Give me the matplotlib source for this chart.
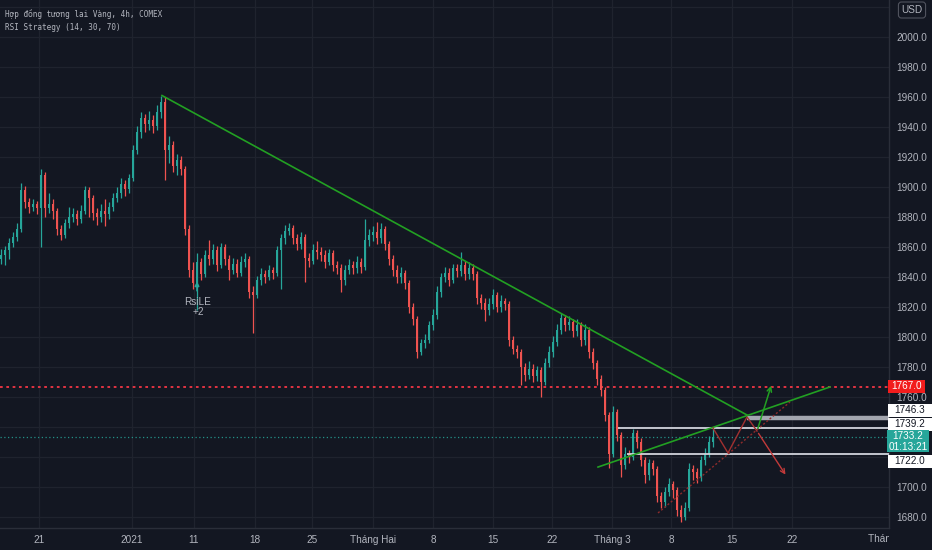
import matplotlib
matplotlib.use('Agg')
import matplotlib.pyplot as plt
import matplotlib.transforms as mtransforms
from matplotlib.transforms import Bbox, TransformedBbox
from matplotlib.patches import Rectangle
import numpy as np

# ---------------- data ----------------
first_open = 1852.0
closes = [1855, 1858, 1863, 1867, 1872, 1898, 1890, 1887, 1889, 1886,
          1908, 1886, 1889, 1884, 1872, 1868, 1876, 1880, 1882, 1879,
          1884, 1898, 1893, 1883, 1880, 1884, 1882, 1887, 1893, 1896,
          1902, 1899, 1906, 1925, 1937, 1946, 1942, 1945, 1941, 1950,
          1957, 1925, 1928, 1914, 1918, 1912, 1872, 1845, 1836, 1850,
          1842, 1855, 1852, 1858, 1848, 1860, 1852, 1845, 1849, 1843,
          1850, 1852, 1830, 1828, 1838, 1842, 1840, 1845, 1843, 1858,
          1866, 1871, 1873, 1866, 1862, 1867, 1853, 1851, 1858, 1857,
          1855, 1850, 1856, 1848, 1846, 1838, 1845, 1848, 1846, 1850,
          1847, 1865, 1868, 1870, 1866, 1872, 1862, 1852, 1845, 1840,
          1843, 1836, 1820, 1812, 1790, 1796, 1798, 1808, 1815, 1830,
          1840, 1843, 1838, 1846, 1844, 1848, 1842, 1846, 1842, 1826,
          1823, 1818, 1822, 1828, 1820, 1824, 1822, 1798, 1792, 1790,
          1780, 1775, 1779, 1774, 1778, 1770, 1783, 1790, 1797, 1805,
          1813, 1808, 1810, 1804, 1808, 1798, 1805, 1790, 1783, 1772,
          1765, 1748, 1722, 1750, 1735, 1715, 1722, 1720, 1736, 1730,
          1718, 1708, 1716, 1712, 1694, 1690, 1697, 1702, 1698, 1685,
          1680, 1686, 1712, 1710, 1706, 1718, 1722, 1730, 1733.2]
highs = [1859, 1861, 1866, 1870, 1876, 1903, 1901, 1893, 1892, 1891,
         1912, 1910, 1896, 1892, 1886, 1875, 1879, 1887, 1886, 1885,
         1888, 1901, 1900, 1895, 1886, 1889, 1892, 1890, 1896, 1900,
         1906, 1905, 1909, 1928, 1941, 1950, 1949, 1951, 1948, 1955,
         1961, 1960, 1934, 1931, 1922, 1921, 1914, 1875, 1850, 1856,
         1853, 1858, 1865, 1862, 1861, 1863, 1862, 1855, 1853, 1852,
         1854, 1856, 1854, 1834, 1841, 1846, 1845, 1848, 1847, 1861,
         1869, 1875, 1876, 1875, 1869, 1870, 1869, 1856, 1862, 1864,
         1860, 1858, 1859, 1858, 1851, 1849, 1848, 1852, 1851, 1854,
         1853, 1879, 1872, 1874, 1877, 1876, 1874, 1864, 1855, 1848,
         1847, 1845, 1838, 1823, 1814, 1799, 1802, 1811, 1819, 1834,
         1843, 1847, 1846, 1849, 1849, 1857, 1851, 1850, 1849, 1844,
         1829, 1826, 1826, 1832, 1830, 1828, 1826, 1824, 1801, 1795,
         1792, 1783, 1784, 1782, 1781, 1780, 1786, 1794, 1801, 1809,
         1816, 1815, 1814, 1812, 1812, 1810, 1809, 1807, 1793, 1785,
         1775, 1767, 1750, 1754, 1752, 1737, 1727, 1725, 1739, 1738,
         1733, 1720, 1719, 1718, 1714, 1697, 1700, 1706, 1704, 1700,
         1688, 1690, 1716, 1715, 1713, 1721, 1726, 1734, 1739.5]
lows = [1849, 1848, 1852, 1860, 1864, 1870, 1886, 1883, 1884, 1882,
        1860, 1880, 1883, 1879, 1868, 1865, 1866, 1873, 1877, 1875,
        1876, 1882, 1880, 1878, 1875, 1877, 1874, 1879, 1884, 1890,
        1893, 1894, 1896, 1904, 1922, 1933, 1937, 1938, 1936, 1938,
        1946, 1905, 1916, 1910, 1908, 1908, 1868, 1840, 1832, 1818,
        1838, 1840, 1848, 1849, 1844, 1846, 1848, 1838, 1842, 1840,
        1841, 1847, 1826, 1803, 1826, 1835, 1836, 1838, 1839, 1841,
        1832, 1862, 1868, 1862, 1858, 1859, 1837, 1847, 1849, 1852,
        1851, 1846, 1848, 1844, 1842, 1830, 1835, 1842, 1842, 1843,
        1843, 1845, 1861, 1864, 1862, 1863, 1858, 1848, 1841, 1836,
        1836, 1832, 1816, 1808, 1786, 1788, 1793, 1796, 1805, 1812,
        1827, 1837, 1834, 1836, 1840, 1841, 1838, 1839, 1838, 1822,
        1819, 1811, 1815, 1819, 1817, 1817, 1818, 1794, 1789, 1786,
        1768, 1771, 1772, 1770, 1771, 1760, 1768, 1780, 1787, 1794,
        1802, 1804, 1805, 1800, 1801, 1794, 1795, 1786, 1779, 1768,
        1761, 1744, 1713, 1720, 1731, 1707, 1712, 1716, 1718, 1726,
        1714, 1703, 1705, 1708, 1690, 1686, 1687, 1694, 1693, 1681,
        1677, 1678, 1684, 1705, 1703, 1704, 1715, 1720, 1727]

date_labels = ['21', '2021', '11', '18', '25', 'Tháng Hai', '8', '15', '22',
               'Tháng 3', '8', '15', '22']
next_month_label = 'Tháng 4'
price_ticks = [1680, 1700, 1720, 1740, 1760, 1780, 1800, 1820, 1840, 1860,
               1880, 1900, 1920, 1940, 1960, 1980, 2000, 2020]
hidden_ticks = [1720, 1740, 2020]

title_line1 = 'Hợp đồng tương lai Vàng, 4h, COMEX'
title_line2 = 'RSI Strategy (14, 30, 70)'
last_price = 1733.2
countdown = '01:13:21'
alert_level = 1767.0
level_values = [1746.3, 1739.2, 1722.0]
level_starts = [186.5, 154.25, 156.5]

# user drawings (bar index, price)
down_trend = [(40.25, 1961.0), (186.5, 1748.0)]
up_trend = [(149.25, 1713.3), (207.25, 1766.7)]
zigzag = [(178.0, 1739.3), (181.75, 1722.7), (186.5, 1746.7), (189.0, 1737.3)]
red_arrow_end = (196.5, 1706.7)
green_arrow_end = (192.75, 1769.3)
dotted_channel = [(164.25, 1682.7), (197.25, 1756.7)]
signal_bar = 49
signal_text = ['RsiLE', '+2']

# ---------------- style ----------------
BG = '#131722'
GRID = '#1f232e'
TXT = '#b2b5be'
UP = '#26a69a'
DOWN = '#ef5350'
GREEN = '#22a022'
plt.rcParams['font.family'] = ['Liberation Sans Narrow', 'Liberation Sans', 'DejaVu Sans']

W, H = 932, 550
AXW = 889
fig = plt.figure(figsize=(W / 100, H / 100), dpi=100, facecolor=BG)
ax = fig.add_axes([0, 22 / H, AXW / W, 528 / H], facecolor=BG)
ax.set_xlim(-0.25, 222)
ax.set_ylim(1672.67, 2024.67)

# ticks and grid
tick_pos = [9.5, 32.75, 48.25, 63.5, 77.75, 93, 108, 123, 137.75, 152.75,
            167.5, 182.75, 197.75]
ax.set_xticks(tick_pos)
ax.set_xticklabels(date_labels)
ax.set_yticks(price_ticks)
ax.set_yticklabels(['' if p in hidden_ticks else f'{p:.1f}' for p in price_ticks])
ax.yaxis.tick_right()
ax.tick_params(axis='y', length=0, pad=5, labelcolor=TXT, labelsize=7.2)
ax.tick_params(axis='x', length=0, pad=5, labelcolor=TXT, labelsize=7.2)
ax.grid(True, color=GRID, lw=0.9)
ax.set_axisbelow(True)
for s in ['top', 'left']:
    ax.spines[s].set_visible(False)
for s in ['right', 'bottom']:
    ax.spines[s].set_color('#2a2e39')
    ax.spines[s].set_linewidth(1.0)

# clipped next month label
clip = TransformedBbox(Bbox([[0, 0], [AXW / W, 1]]), fig.transFigure)
tr = mtransforms.blended_transform_factory(ax.transData, ax.transAxes)
t = ax.text(221.25, -0.021, next_month_label, transform=tr, ha='center', va='center',
            color=TXT, fontsize=7.2)
t.set_clip_on(True)
t.set_clip_box(clip)

# candles
c = np.array(closes, float)
o = np.array([first_open] + closes[:-1], float)
hi = np.array(highs, float)
lo = np.array(lows, float)
x = np.arange(len(c))
cols = np.where(c >= o, UP, DOWN)
ax.vlines(x, lo, hi, colors=cols, lw=0.9, zorder=3)
body = np.maximum(np.abs(c - o), 0.5)
ax.bar(x, body, bottom=np.minimum(o, c), width=0.65, color=cols, lw=0, zorder=4)

# horizontal levels
ax.axhline(alert_level, color='#f23645', ls=(0, (1.5, 2.0)), lw=1.3, zorder=2)
ax.axhline(last_price, color=UP, ls=(0, (1, 2)), lw=0.9, alpha=0.85, zorder=2)
ax.hlines(level_values[0], level_starts[0], 222, color='#a3a6af', lw=3.2, zorder=5)
ax.hlines(level_values[1], level_starts[1], 222, color='#d1d4dc', lw=1.3, zorder=5)
ax.hlines(level_values[2], level_starts[2], 222, color='#d1d4dc', lw=1.3, zorder=5)

# drawings
ax.plot(*zip(*down_trend), color=GREEN, lw=1.2, zorder=6)
ax.plot(*zip(*up_trend), color=GREEN, lw=1.2, zorder=6)
ax.plot(*zip(*dotted_channel), color='#8e2b2b', lw=1.0, ls=(0, (1.5, 1.5)), zorder=6)
ax.plot(*zip(*zigzag), color='#a23030', lw=1.0, zorder=6)
ax.annotate('', xy=red_arrow_end, xytext=zigzag[-1],
            arrowprops=dict(arrowstyle='->', color='#c23a3a', lw=1.0, mutation_scale=8), zorder=6)
ax.annotate('', xy=green_arrow_end, xytext=zigzag[-1],
            arrowprops=dict(arrowstyle='->', color=GREEN, lw=1.1, mutation_scale=8), zorder=6)

# signal marker
ax.annotate('', xy=(signal_bar, 1839), xytext=(signal_bar, 1829),
            arrowprops=dict(arrowstyle='-|>', color=UP, lw=1.2, mutation_scale=6), zorder=7)
ax.text(signal_bar + 0.25, 1823.3, signal_text[0], color=TXT, fontsize=7.2,
        ha='center', va='center', zorder=7)
ax.text(signal_bar + 0.25, 1816.7, signal_text[1], color=TXT, fontsize=7.2,
        ha='center', va='center', zorder=7)

# price-scale labels (boxes drawn as rectangles in the price scale area)
ytr = mtransforms.blended_transform_factory(ax.transAxes, ax.transData)
PX = 1.0 / AXW          # one pixel in axes fraction
PY = 1.0 / 1.5          # one pixel in price units

def scale_label(val_text, ycenter, fc, tc, x0px, x1px, hpx):
    r = Rectangle((1 + x0px * PX, ycenter - hpx * PY / 2), (x1px - x0px) * PX, hpx * PY,
                  transform=ytr, facecolor=fc, edgecolor='none', clip_on=False, zorder=10)
    ax.add_patch(r)
    ax.text(1 + (x0px + x1px) / 2 * PX, ycenter, val_text, transform=ytr, ha='center',
            va='center', color=tc, fontsize=7.2, linespacing=1.1, clip_on=False, zorder=11)

scale_label(f'{alert_level:.1f}', 1767.3, '#f21d1d', 'white', -1, 36, 13)
scale_label(f'{level_values[0]:.1f}', 1751.3, 'white', BG, -1, 43, 13)
scale_label(f'{level_values[1]:.1f}', 1742.0, 'white', BG, -1, 43, 13)
scale_label(f'{last_price:.1f}\n{countdown}', 1730.5, UP, 'white', -2, 40, 22)
scale_label(f'{level_values[2]:.1f}', 1717.3, 'white', BG, -1, 43, 13)

# USD box
fig.text(912 / W, 1 - 10 / H, 'USD', color=TXT, fontsize=7.2, ha='center', va='center',
         zorder=20,
         bbox=dict(boxstyle='round,pad=0.3,rounding_size=0.3', fc=BG, ec='#50535e', lw=0.8))

# header
fig.text(5 / W, 1 - 14 / H, title_line1, color=TXT, fontsize=5.5,
         family=['DejaVu Sans Mono', 'DejaVu Sans'], ha='left', va='center')
fig.text(5 / W, 1 - 27 / H, title_line2, color=TXT, fontsize=5.5,
         family=['DejaVu Sans Mono', 'DejaVu Sans'], ha='left', va='center')

fig.savefig('out.png', dpi=100, facecolor=BG)
